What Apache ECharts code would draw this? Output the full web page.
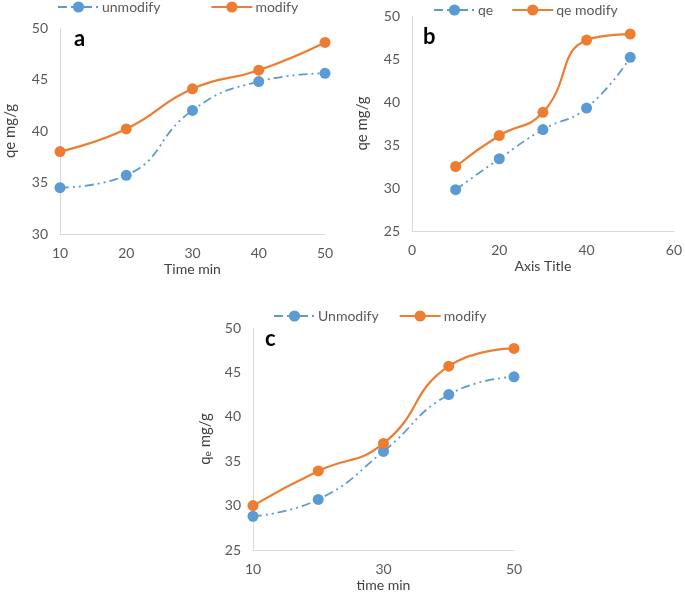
<!DOCTYPE html>
<html lang="en">
<head>
    <meta charset="UTF-8">
    <title>qe vs time</title>
    <script src="https://cdn.jsdelivr.net/npm/echarts@6/dist/echarts.min.js"></script>
</head>
<body style="margin:0;background:#fff;">
    <div id="main" style="width:685px;height:597px;"></div>
    <script>
        // 数据
        var timeA = [10, 20, 30, 40, 50];
        var unmodA = [34.5, 35.7, 42.0, 44.8, 45.6];
        var modA = [38.0, 40.2, 44.1, 45.9, 48.6];

        var timeB = [10, 20, 30, 40, 50];
        var qeB = [29.8, 33.4, 36.8, 39.3, 45.2];
        var qeModB = [32.5, 36.1, 38.8, 47.2, 47.9];

        var timeC = [10, 20, 30, 40, 50];
        var unmodC = [28.8, 30.7, 36.1, 42.5, 44.5];
        var modC = [30.0, 33.9, 37.0, 45.7, 47.7];

        var BLUE = '#5b9bd5', ORANGE = '#ed7d31';
        var FONT = 'Lato';
        var txt = '#595959';

        function pairs(xs, ys) {
            return xs.map(function (x, i) { return [x, ys[i]]; });
        }

        function xAx(idx, min, max, interval, name) {
            return {
                type: 'value', gridIndex: idx, min: min, max: max, interval: interval,
                name: name, nameLocation: 'middle', nameGap: 28,
                nameTextStyle: { color: '#404040', fontSize: 14, fontFamily: FONT },
                axisLine: { lineStyle: { color: '#d9d9d9', width: 1 } },
                axisTick: { show: false }, splitLine: { show: false },
                axisLabel: { color: txt, fontSize: 14, fontFamily: FONT, margin: 12 }
            };
        }
        function yAx(idx, min, name, gap) {
            return {
                type: 'value', gridIndex: idx, min: min, max: 50, interval: 5,
                name: name, nameLocation: 'middle', nameGap: gap,
                nameTextStyle: { color: '#404040', fontSize: 15, fontFamily: FONT,
                    rich: { n: { fontSize: 15, fontFamily: FONT, color: '#404040' },
                            s: { fontSize: 10, fontFamily: FONT, color: '#404040', verticalAlign: 'bottom', padding: [6, 0, 0, 0] } } },
                axisLine: { show: true, lineStyle: { color: '#d9d9d9', width: 1 } },
                axisTick: { show: false }, splitLine: { show: false },
                axisLabel: { color: txt, fontSize: 14, fontFamily: FONT, margin: 12 }
            };
        }
        function dashSeries(name, idx, data) {
            return {
                name: name, type: 'line', xAxisIndex: idx, yAxisIndex: idx, data: data,
                smooth: 0.5, symbol: 'circle', symbolSize: 11,
                itemStyle: { color: BLUE },
                lineStyle: { color: BLUE, width: 1.8, type: [9, 4, 2, 4, 2, 4] }
            };
        }
        function solidSeries(name, idx, data) {
            return {
                name: name, type: 'line', xAxisIndex: idx, yAxisIndex: idx, data: data,
                smooth: 0.5, symbol: 'circle', symbolSize: 11,
                itemStyle: { color: ORANGE },
                lineStyle: { color: ORANGE, width: 2.2 }
            };
        }
        function legend(names, left, top, gap) {
            return {
                data: names, left: left, top: top, itemGap: gap, padding: 0,
                itemWidth: 41, itemHeight: 14,
                textStyle: { color: txt, fontSize: 14, fontFamily: FONT, padding: [0, 0, 0, -2] }
            };
        }

        var myChart = echarts.init(document.getElementById('main'));
        myChart.setOption({
            animation: false,
            grid: [
                { left: 60, right: 360, top: 28, bottom: 363 },
                { left: 412, right: 11, top: 16, bottom: 366 },
                { left: 253, right: 171, top: 328, bottom: 47 }
            ],
            xAxis: [
                xAx(0, 10, 50, 10, 'Time min'),
                xAx(1, 0, 60, 20, 'Axis Title'),
                xAx(2, 10, 50, 20, 'time min')
            ],
            yAxis: [
                yAx(0, 30, 'qe mg/g', 42),
                yAx(1, 25, 'qe mg/g', 42),
                yAx(2, 25, '{n|q}{s|e}{n| mg/g}', 40)
            ],
            legend: [
                legend(['unmodify', 'modify'], 57, 0, 50),
                legend(['qe', 'qe modify'], 433, 3, 18),
                legend(['Unmodify', 'modify '], 273, 309, 20)
            ],
            graphic: [
                { type: 'text', left: 74, top: 28, style: { text: 'a', font: 'bold 22px ' + FONT, fill: '#000' } },
                { type: 'text', left: 423, top: 26, style: { text: 'b', font: 'bold 22px ' + FONT, fill: '#000' } },
                { type: 'text', left: 265, top: 328, style: { text: 'c', font: 'bold 22px ' + FONT, fill: '#000' } }
            ],
            series: [
                dashSeries('unmodify', 0, pairs(timeA, unmodA)),
                solidSeries('modify', 0, pairs(timeA, modA)),
                dashSeries('qe', 1, pairs(timeB, qeB)),
                solidSeries('qe modify', 1, pairs(timeB, qeModB)),
                dashSeries('Unmodify', 2, pairs(timeC, unmodC)),
                solidSeries('modify ', 2, pairs(timeC, modC))
            ]
        });
    </script>
</body>
</html>
